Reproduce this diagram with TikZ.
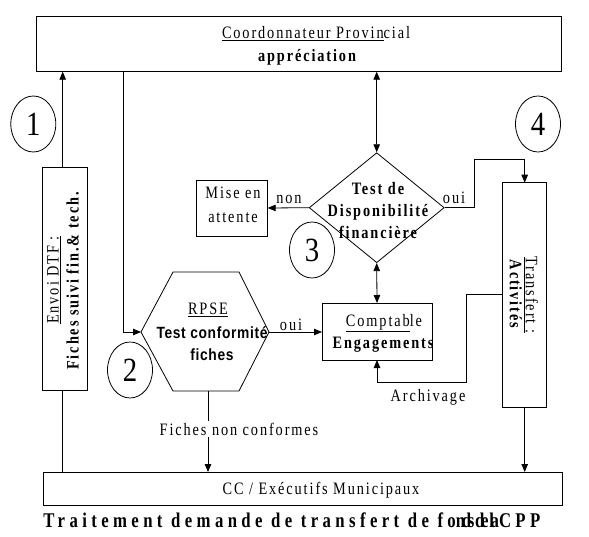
\documentclass[tikz,border=0pt]{standalone}
\usepackage{fontspec}
\setmainfont{Liberation Serif}
\newfontfamily\spacedserif[LetterSpace=10.9, FakeStretch=0.82]{Liberation Serif}
\newfontfamily\condsans[LetterSpace=4, FakeStretch=0.85]{Liberation Sans}
\newfontfamily\titleserif[LetterSpace=21, FakeStretch=0.8]{Liberation Serif}
\newfontfamily\numserif[FakeStretch=0.85]{Liberation Serif}
\usetikzlibrary{arrows.meta,shapes.geometric}

\begin{document}
\begin{tikzpicture}[x=1bp,y=-1bp,
  line width=0.8bp,
  frame/.style={draw, inner sep=0pt, outer sep=0pt},
  lbl/.style={inner sep=0pt, align=center, font=\spacedserif\fontsize{17.5}{23}\selectfont},
  lblb/.style={inner sep=0pt, align=center, font=\spacedserif\bfseries\fontsize{17.5}{22}\selectfont},
  sansb/.style={inner sep=0pt, align=center, font=\condsans\bfseries\fontsize{16.3}{22}\selectfont},
  num/.style={draw, ellipse, minimum width=45bp, minimum height=56bp, inner sep=0pt,
              font=\numserif\fontsize{34}{34}\selectfont},
  tip/.tip={Triangle[length=8bp,width=6.5bp]},
  arr/.style={-tip},
  darr/.style={tip-tip}
]
\useasboundingbox (0,0) rectangle (589,537);

% --- boxes -------------------------------------------------------------
\node[frame, minimum width=524.3bp, minimum height=55.7bp] (coord) at (298.85,43.85) {};
\node[lbl] (coordname) at (316,34) {\underline{Coordonnateur Provin}cial};
\node[lblb] (coordtask) at (307,57) {appréciation};

\node[frame, minimum width=45bp, minimum height=222.3bp] (envoi) at (65.2,278.85) {};
\node[lbl, rotate=90, font=\spacedserif\fontsize{17.5}{20}\selectfont] (envoitxt) at (63,280)
  {\underline{Envoi DTF :}\\\textbf{Fiches suivi fin.\& tech.}};

\node[frame, minimum width=71.7bp, minimum height=56bp] (mise) at (231.85,208) {};
\node[lbl, font=\spacedserif\fontsize{17.5}{24}\selectfont] (misetxt) at (233,205) {Mise en\\attente};

\node[draw, diamond, aspect=1.227, minimum width=135bp, minimum height=110bp,
      inner sep=0pt] (dispo) at (376.7,207.7) {};
\node[lblb] (dispotxt) at (378,210.5) {Test de\\Disponibilité\\financière};

% hexagon of the RPSE check
\coordinate (hexW) at (141,332);
\coordinate (hexE) at (269,332);
\coordinate (hexS) at (208,391);
\draw (173,272) -- (239,272) -- (hexE) -- (239,391) -- (173,391) -- (hexW) -- cycle;
\node[lbl] (rpse) at (208,310) {\underline{RPSE}};
\node[sansb] (rpsetest) at (212,344) {Test conformité\\fiches};

\node[frame, minimum width=110bp, minimum height=57bp] (compta) at (377,331.5) {};
\node[lbl, font=\spacedserif\fontsize{17.5}{22}\selectfont] (comptatxt) at (384,333)
  {\underline{Comptab}le\\\textbf{Engagements}};

\node[frame, minimum width=44bp, minimum height=224.3bp] (transf) at (524.7,294.85) {};
\node[lbl, rotate=-90, font=\spacedserif\fontsize{17.5}{16}\selectfont] (transftxt) at (524,295)
  {\underline{Transfert :}\\\textbf{Activités}};

\node[frame, minimum width=519bp, minimum height=33.5bp] (ccem) at (302.5,488.75) {};
\node[lbl] (ccemtxt) at (321,490) {CC / Exécutifs Municipaux};

\node[anchor=west, inner sep=0pt, font=\titleserif\bfseries\fontsize{21}{24}\selectfont] (title) at (43,520)
  {Traitement demande de transfert de fo{\addfontfeature{LetterSpace=-16}nds de la}CPP};

% --- step numbers --------------------------------------------------------
\node[num] (s1) at (33.3,124) {1};
\node[num] (s4) at (538,124) {4};
\node[num] (s2) at (130,370) {2};
\node[num] (s3) at (312,250) {3};

% --- connectors ----------------------------------------------------------
\draw[arr] ([xshift=-2.5bp]envoi.north) -- ([xshift=-2.5bp]envoi.north |- coord.south);
\draw ([xshift=-2.5bp]envoi.south) -- ([xshift=-2.5bp]envoi.south |- ccem.north);
\draw[arr] ([xshift=86.6bp]coord.south west) |- (hexW);
\draw[darr] (dispo.north) -- (dispo.north |- coord.south);
\draw[arr] (dispo.west) -- (mise.east);
\node[lbl, anchor=base] (nonlbl) at (289,204) {non};

\coordinate (ouiBend) at (474,159.3);
\draw[arr] (dispo.east) -| (ouiBend) -| (transf.north);
\node[lbl, anchor=base] (ouilbltr) at (454,204) {oui};

\draw[arr] (hexE) -- (hexE -| compta.west);
\node[lbl, anchor=base] (ouilblco) at (291,330) {oui};
\draw[darr] (dispo.south) -- (compta.north);

\coordinate (archBend) at (466.7,382.7);
\draw[arr] (transf.west) -| (archBend) -| (compta.south);
\node[lbl] (archlbl) at (428,397) {Archivage};

\draw[arr] (transf.south) -- (transf.south |- ccem.north);
\draw[arr] (hexS) -- (hexS |- ccem.north);
\node[lbl, fill=white, inner sep=2bp] (nonconf) at (239,429) {Fiches non conformes};
\end{tikzpicture}
\end{document}
